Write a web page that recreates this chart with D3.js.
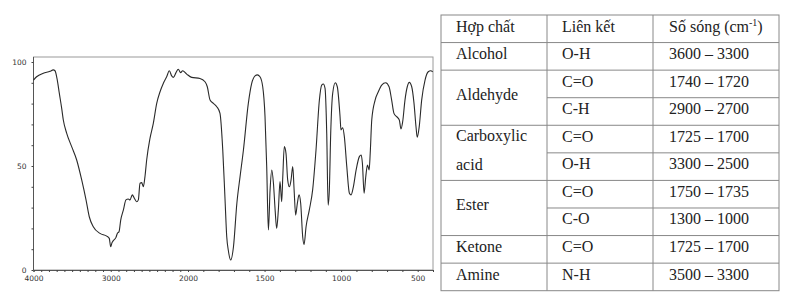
<!DOCTYPE html>
<html>
<head>
<meta charset="utf-8">
<script src="https://cdn.jsdelivr.net/npm/d3@7"></script>
<style>
  html, body { margin: 0; padding: 0; background: #fff; }
  svg { display: block; }
  .serif { font-family: "Liberation Serif", "Times New Roman", serif; }
  .axt { font-family: "DejaVu Sans", Verdana, sans-serif; }
</style>
</head>
<body>
<svg id="chart" width="790" height="300"></svg>
<script>
// ---- Spectrum data (wavenumber cm-1, % transmittance) ----
const wavenumbers = [4000,3960,3873,3786,3744,3722,3692,3666,3635,3614,3570,3506,3441,3376,3320,3278,3226,3139,3052,3019,3001,2984,2967,2932,2915,2893,2871,2837,2803,2773,2751,2721,2695,2664,2643,2621,2599,2579,2557,2535,2492,2449,2405,2362,2320,2276,2242,2211,2190,2155,2126,2095,2069,2017,1976,1922,1889,1874,1856,1834,1812,1791,1773,1758,1747,1737,1721,1703,1681,1660,1638,1606,1584,1562,1547,1530,1512,1497,1486,1475,1464,1453,1442,1431,1421,1410,1399,1388,1381,1371,1360,1349,1338,1327,1316,1307,1297,1286,1275,1264,1251,1242,1229,1208,1186,1164,1142,1127,1116,1105,1094,1085,1077,1068,1055,1038,1025,1007,1001,990,979,963,946,935,920,902,881,869,861,850,839,828,817,810,800,778,757,735,709,687,670,655,637,620,609,598,583,568,555,539,524,511,503,490,474,452,431,415,402];
const transmittance = [91.3,92.9,94.6,95.5,96.2,95.8,91.3,85,77.7,72.1,65.7,59.3,52.9,43.3,33.7,25.6,20.8,17.6,16.3,15.2,11.2,13.1,14.1,15.7,17.6,18.4,24,28.8,33.7,34.1,33.7,36.1,34.5,32.8,33.7,41.7,42,40,44.9,52.9,63.3,70.5,80.1,85.7,89.7,92.9,95.8,93.3,92.6,94.9,96.5,94.9,95.8,94.2,92.6,92.1,90.5,88.1,81.7,80.1,78.5,75.3,57.7,33.7,16,9.6,4.8,11.2,32,44.9,57.7,80.1,89.7,93.3,93.8,92.9,88.1,73.7,49.7,19.2,38.5,48.1,41.7,28.8,20,28.8,42.5,32.8,44.9,59.3,56.1,43.3,40,43.3,49.7,38.5,26.4,32,36.1,32,16,12.3,20.8,28.8,38.5,57.7,81.7,88.9,89.4,87.3,65.7,31.2,38.5,65.7,85,90,88.1,73.7,67.3,68.4,64.1,49.7,36.9,36.1,40,48.1,54.5,55.3,51.3,36.9,44.9,50.5,48.1,56.1,72.1,81.7,85.7,88.9,90,88.1,81.7,75.3,73.7,72.1,67.8,71.3,81.7,88.1,90.2,88.1,80.1,68.9,63.8,68.9,81.7,91.3,95.3,95.8,95.3];

const xLabelTicks = [4000, 3000, 2000, 1500, 1000, 500];
const yLabelTicks = [0, 50, 100];

// ---- Table data ----
const headers = ["Hợp chất", "Liên kết", "Số sóng (cm"];
const compounds = ["Alcohol", "Aldehyde", "Carboxylic acid", "Ester", "Ketone", "Amine"];
const compoundSpans = [1, 2, 2, 2, 1, 1];
const bonds = ["O-H", "C=O", "C-H", "C=O", "O-H", "C=O", "C-O", "C=O", "N-H"];
const ranges = ["3600 – 3300", "1740 – 1720", "2900 – 2700", "1725 – 1700", "3300 – 2500", "1750 – 1735", "1300 – 1000", "1725 – 1700", "3500 – 3300"];

(function () {
const svg = d3.select("#chart");

// ---------------- Spectrum ----------------
const pLeft = 33.5, pRight = 433, pTop = 57, pBottom = 270;
const x = d3.scaleLinear().domain([4000, 2000, 400]).range([pLeft, 188, pRight]);
const y = d3.scaleLinear().domain([0, 100]).range([pBottom, 62]);

const g = svg.append("g");

g.append("rect").attr("x", pLeft).attr("y", pTop)
  .attr("width", pRight - pLeft).attr("height", pBottom - pTop)
  .attr("fill", "none").attr("stroke", "#9a9a9a").attr("stroke-width", 1);

const xTicks = d3.range(4000, 399, -100);
const xAxis = d3.axisBottom(x).tickValues(xTicks).tickSize(2).tickPadding(4)
  .tickFormat(d => xLabelTicks.includes(d) ? String(d) : "");
const gx = g.append("g").attr("transform", `translate(0,${pBottom})`).call(xAxis);
gx.attr("font-family", null).attr("font-size", null).attr("class", "axt");
gx.select(".domain").attr("stroke", "#555");
gx.selectAll(".tick line").attr("stroke", "#444");
gx.selectAll(".tick text").attr("font-size", 7.5).attr("fill", "#333");

const yAxis = d3.axisLeft(y).tickValues(d3.range(0, 101, 10)).tickSize(2).tickPadding(5)
  .tickFormat(d => yLabelTicks.includes(d) ? String(d) : "");
const gy = g.append("g").attr("transform", `translate(${pLeft},0)`).call(yAxis);
gy.attr("font-family", null).attr("font-size", null).attr("class", "axt");
gy.select(".domain").attr("stroke", "#555").attr("d", `M0,${pTop}V${pBottom}`);
gy.selectAll(".tick line").attr("stroke", "#444");
gy.selectAll(".tick text").attr("font-size", 7.5).attr("fill", "#333");

const pts = wavenumbers.map((w, i) => [w, transmittance[i]]);
const line = d3.line().x(d => x(d[0])).y(d => y(d[1])).curve(d3.curveMonotoneX);
g.append("path").datum(pts)
  .attr("d", line).attr("fill", "none").attr("stroke", "#2a2a2a").attr("stroke-width", 1.1);

// ---------------- Table ----------------
const tTop = 15, rowH = 27.57;
const cols = [441, 547, 653, 779];
const lineColor = "#888";
const tg = svg.append("g").attr("class", "serif");
const nRows = 1 + bonds.length;
const yRow = i => tTop + i * rowH;

tg.append("rect").attr("x", cols[0]).attr("y", tTop)
  .attr("width", cols[3] - cols[0]).attr("height", nRows * rowH)
  .attr("fill", "none").attr("stroke", lineColor);
[cols[1], cols[2]].forEach(cx => tg.append("line")
  .attr("x1", cx).attr("x2", cx).attr("y1", tTop).attr("y2", yRow(nRows)).attr("stroke", lineColor));
for (let i = 1; i < nRows; i++) {
  tg.append("line").attr("x1", cols[1]).attr("x2", cols[3])
    .attr("y1", yRow(i)).attr("y2", yRow(i)).attr("stroke", lineColor);
}
let acc = 1;
tg.append("line").attr("x1", cols[0]).attr("x2", cols[1]).attr("y1", yRow(1)).attr("y2", yRow(1)).attr("stroke", lineColor);
compoundSpans.forEach((s) => {
  acc += s;
  if (acc < nRows) tg.append("line").attr("x1", cols[0]).attr("x2", cols[1])
    .attr("y1", yRow(acc)).attr("y2", yRow(acc)).attr("stroke", lineColor);
});

const txt = (tx, ty, s) => tg.append("text").attr("x", tx).attr("y", ty)
  .attr("font-size", 16).attr("fill", "#222").text(s);

txt(456, yRow(0) + 17, headers[0]);
txt(562, yRow(0) + 17, headers[1]);
const h3 = txt(669, yRow(0) + 17, headers[2]);
h3.append("tspan").attr("dy", -6).attr("font-size", 10).text("-1");
h3.append("tspan").attr("dy", 6).text(")");

let r = 1;
compounds.forEach((c, i) => {
  const s = compoundSpans[i];
  if (c === "Carboxylic acid") {
    txt(456, yRow(r) + 16, "Carboxylic");
    txt(456, yRow(r + 1) + 17, "acid");
  } else if (s === 1) {
    txt(456, yRow(r) + 16.5, c);
  } else {
    txt(456, yRow(r) + s * rowH / 2 + 2, c);
  }
  r += s;
});
bonds.forEach((b, i) => {
  txt(562, yRow(i + 1) + 16.5, b);
  txt(669, yRow(i + 1) + 16.5, ranges[i]);
});
})();
</script>
</body>
</html>
